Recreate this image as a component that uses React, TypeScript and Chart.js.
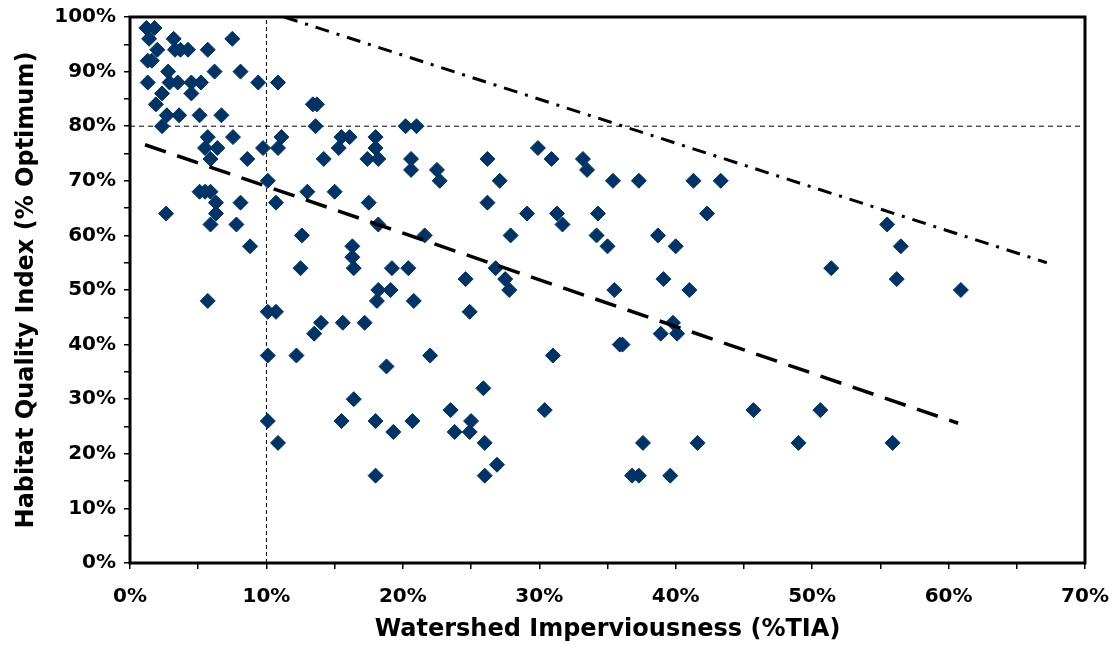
import React, { useEffect, useRef } from "react";
import { Chart, registerables } from "chart.js";

Chart.register(...registerables);

// Watershed imperviousness (%TIA) and habitat quality index (% optimum)
const tiaValues: number[] = [
  1.2, 1.8, 1.4, 3.2, 7.5, 2.0, 3.3, 3.7, 4.25, 5.7, 1.3, 1.6, 2.8, 6.2, 8.1,
  1.3, 2.9, 3.5, 4.5, 5.2, 9.4, 10.85, 2.35, 4.5, 1.9, 13.4, 13.7, 2.7, 3.6, 5.1,
  6.7, 2.35, 13.6, 20.2, 21.0, 5.7, 7.55, 11.1, 15.5, 16.1, 18.0, 5.5, 6.4, 9.75,
  10.85, 15.3, 18.0, 29.9, 5.9, 8.6, 14.2, 17.4, 18.2, 20.6, 26.2, 30.9, 33.2,
  20.6, 22.5, 33.5, 10.1, 22.7, 27.1, 35.4, 37.3, 41.3, 43.3, 5.1, 5.5, 5.9, 13.0,
  15.0, 6.3, 8.1, 10.7, 17.5, 26.2, 2.65, 6.3, 29.1, 31.3, 34.3, 42.3, 5.9, 7.8,
  18.2, 31.7, 55.5, 12.6, 21.6, 27.9, 34.2, 38.7, 8.8, 16.3, 35.0, 40.0, 56.5,
  16.3, 12.5, 16.4, 19.2, 20.4, 26.8, 51.4, 24.6, 27.5, 39.1, 56.2, 18.2, 19.1,
  27.8, 35.5, 41.0, 60.9, 5.7, 18.1, 20.8, 10.1, 10.7, 24.9, 14.0, 15.6, 17.2,
  39.8, 13.5, 38.9, 40.1, 35.9, 36.1, 10.1, 12.2, 22.0, 31.0, 18.8, 25.9, 16.4,
  23.5, 30.4, 45.7, 50.6, 10.1, 15.5, 18.0, 20.7, 25.0, 19.3, 23.8, 24.9, 10.85,
  26.0, 37.6, 41.6, 49.0, 55.9, 26.9, 18.0, 26.0, 36.8, 37.3, 39.6,
];
const hqiValues: number[] = [
  98, 98, 96, 96, 96, 94, 94, 94, 94, 94, 92, 92, 90, 90, 90,
  88, 88, 88, 88, 88, 88, 88, 86, 86, 84, 84, 84, 82, 82, 82,
  82, 80, 80, 80, 80, 78, 78, 78, 78, 78, 78, 76, 76, 76,
  76, 76, 76, 76, 74, 74, 74, 74, 74, 74, 74, 74, 74,
  72, 72, 72, 70, 70, 70, 70, 70, 70, 70, 68, 68, 68, 68,
  68, 66, 66, 66, 66, 66, 64, 64, 64, 64, 64, 64, 62, 62,
  62, 62, 62, 60, 60, 60, 60, 60, 58, 58, 58, 58, 58,
  56, 54, 54, 54, 54, 54, 54, 52, 52, 52, 52, 50, 50,
  50, 50, 50, 50, 48, 48, 48, 46, 46, 46, 44, 44, 44,
  44, 42, 42, 42, 40, 40, 38, 38, 38, 38, 36, 32, 30,
  28, 28, 28, 28, 26, 26, 26, 26, 26, 24, 24, 24, 22,
  22, 22, 22, 22, 22, 18, 16, 16, 16, 16, 16,
];

// Trend line (regression) end points
const trendX: number[] = [1.1, 60.7];
const trendY: number[] = [76.6, 25.6];
// Upper envelope (dash-dot) end points
const envelopeX: number[] = [11.3, 67.2];
const envelopeY: number[] = [100, 55];
// Reference thresholds
const tiaThreshold = 10;
const hqiThreshold = 80;

const X_MIN = 0, X_MAX = 70, Y_MIN = 0, Y_MAX = 100;

const pts = (xs: number[], ys: number[]) => xs.map((x, i) => ({ x, y: ys[i] }));

const framePlugin = {
  id: "frame",
  afterDraw(chart: any) {
    const { ctx, chartArea } = chart;
    ctx.save();
    ctx.strokeStyle = "#000";
    ctx.lineWidth = 3;
    ctx.strokeRect(chartArea.left, chartArea.top, chartArea.right - chartArea.left, chartArea.bottom - chartArea.top);
    ctx.restore();
  },
};

export default function App() {
  const ref = useRef<HTMLCanvasElement | null>(null);
  useEffect(() => {
    document.body.style.margin = "0";
    if (!ref.current) return;
    const font = "'DejaVu Sans', Verdana, sans-serif";
    const chart = new Chart(ref.current, {
      type: "scatter",
      data: {
        datasets: [
          {
            data: pts(trendX, trendY),
            showLine: true,
            borderColor: "#000",
            borderWidth: 3.5,
            borderDash: [22, 12],
            pointRadius: 0,
            fill: false,
            order: 0,
          },
          {
            data: pts(envelopeX, envelopeY),
            showLine: true,
            borderColor: "#000",
            borderWidth: 3,
            borderDash: [14, 8, 3, 8],
            pointRadius: 0,
            fill: false,
            order: 0,
          },
          {
            data: [{ x: tiaThreshold, y: Y_MIN }, { x: tiaThreshold, y: Y_MAX }],
            showLine: true,
            borderColor: "#000",
            borderWidth: 1,
            borderDash: [4, 3],
            pointRadius: 0,
            order: 2,
          },
          {
            data: [{ x: X_MIN, y: hqiThreshold }, { x: X_MAX, y: hqiThreshold }],
            showLine: true,
            borderColor: "#000",
            borderWidth: 1,
            borderDash: [5, 4],
            pointRadius: 0,
            order: 2,
          },
          {
            data: pts(tiaValues, hqiValues),
            pointStyle: "rectRot",
            pointRadius: 7.5,
            pointBorderWidth: 1,
            backgroundColor: "#003366",
            borderColor: "#003366",
            order: 1,
          },
        ],
      },
      options: {
        animation: false,
        responsive: true,
        maintainAspectRatio: false,
        layout: { padding: { top: 17, right: 27, left: 0, bottom: 0 } },
        plugins: { legend: { display: false }, tooltip: { enabled: false } },
        scales: {
          x: {
            type: "linear",
            min: X_MIN,
            max: X_MAX,
            afterFit: (s: any) => {
              s.height = 82;
              s.paddingLeft = 0;
              s.paddingRight = 0;
            },
            border: { display: false },
            grid: { drawOnChartArea: false, drawTicks: true, tickLength: 6, color: "#000", lineWidth: 1.5 },
            ticks: {
              stepSize: 5,
              autoSkip: false,
              maxRotation: 0,
              padding: 16,
              color: "#000",
              font: { family: font, size: 20, weight: "bold" },
              callback: (v: any) => (Number(v) % 10 === 0 ? v + "%" : ""),
            },
            title: {
              display: true,
              text: "Watershed Imperviousness (%TIA)",
              color: "#000",
              font: { family: font, size: 24, weight: "bold" },
              padding: { top: 0, bottom: 1 },
            },
          },
          y: {
            type: "linear",
            min: Y_MIN,
            max: Y_MAX,
            afterFit: (s: any) => {
              s.width = 130;
              s.paddingTop = 0;
              s.paddingBottom = 0;
            },
            border: { display: false },
            grid: { drawOnChartArea: false, drawTicks: true, tickLength: 6, color: "#000", lineWidth: 1.5 },
            ticks: {
              stepSize: 5,
              autoSkip: false,
              padding: 8,
              color: "#000",
              font: { family: font, size: 20, weight: "bold" },
              callback: (v: any) => (Number(v) % 10 === 0 ? v + "%" : ""),
            },
            title: {
              display: true,
              text: "Habitat Quality Index (% Optimum)",
              color: "#000",
              font: { family: font, size: 24, weight: "bold" },
              padding: { top: 12, bottom: 0 },
            },
          },
        },
      },
      plugins: [framePlugin],
    });
    return () => chart.destroy();
  }, []);
  return (
    <div style={{ position: "absolute", left: 0, top: 0, width: 1112, height: 645 }}>
      <canvas ref={ref} />
    </div>
  );
}
